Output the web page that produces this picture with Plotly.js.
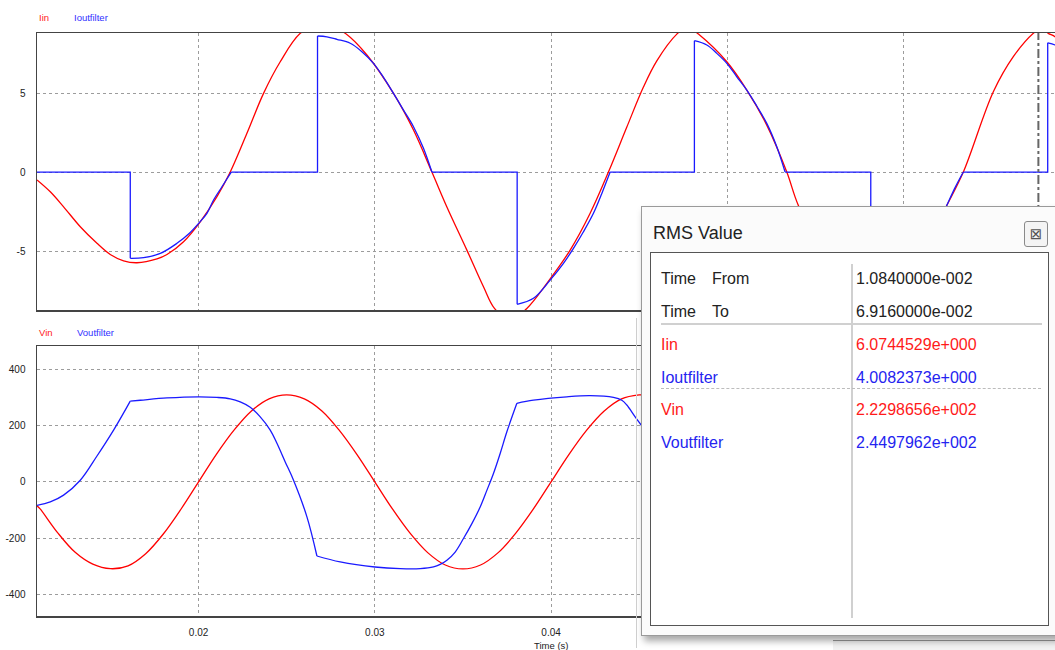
<!DOCTYPE html>
<html><head><meta charset="utf-8">
<script src="https://cdn.plot.ly/plotly-3.0.1.min.js"></script>
<style>
html,body{margin:0;padding:0;overflow:hidden;background:#fff;width:1055px;height:650px;}
#chart{position:absolute;left:0;top:0;width:1075px;height:650px;}
.abs{position:absolute;}
.t{position:absolute;font-family:'Liberation Sans',Arial,sans-serif;font-size:16px;line-height:18px;white-space:nowrap;color:#222;}
</style></head><body>
<div id="chart"></div>
<div class="abs" style="left:636px;top:318px;width:1px;height:330px;background:#cfcfcf;"></div>
<div class="abs" style="left:833px;top:640px;width:240px;height:14px;border-top:1px solid #9a9a9a;background:#f2f2f2;"></div>
<div class="abs" style="left:641px;top:206px;width:430px;height:428px;border:1px solid #9a9a9a;border-right:none;background:#fbfbfb;box-shadow:3px 5px 7px rgba(0,0,0,0.35);"></div>
<div class="t" style="left:653px;top:223px;font-size:18px;line-height:20px;">RMS Value</div>
<div class="abs" style="left:1024px;top:221px;width:22px;height:24px;border:1px solid #8a8a8a;border-radius:3px;background:#f4f4f4;font-family:'DejaVu Sans',sans-serif;font-size:15px;line-height:24px;text-align:center;color:#555;">&#x22A0;</div>
<div class="abs" style="left:650px;top:252px;width:397px;height:372px;border:1.5px solid #555;background:#fff;"></div>
<div class="abs" style="left:851px;top:264px;width:2px;height:354px;background:#d0d0d0;"></div>
<div class="abs" style="left:661px;top:323px;width:381px;height:2px;background:#d0d0d0;"></div>
<div class="abs" style="left:661px;top:388px;width:380px;height:0;border-top:1px dashed #bcbcbc;"></div>
<div id="rows"></div>
<script>
// ---------------- data ----------------
const timeRange = [0.010834, 0.06916];
const xTickVals = [0.02, 0.03, 0.04, 0.05, 0.06];
const xTickText = ['0.02', '0.03', '0.04', '', ''];
const iTickVals = [-5, 0, 5];
const iTickText = ['-5', '0', '5'];
const vTickVals = [-400, -200, 0, 200, 400];
const vTickText = ['-400', '-200', '0', '200', '400'];
const cursorTime = 0.06765;

const tIin = [0.010834,0.011588,0.012343,0.013290,0.014237,0.014991,0.015746,0.016506,0.017640,0.018208,0.019149,0.020096,0.021044,0.021798,0.022745,0.023687,0.024634,0.025769,0.027017,0.028322,0.029552,0.031061,0.032195,0.033239,0.034090,0.035224,0.036166,0.036790,0.037680,0.038627,0.039762,0.041083,0.042218,0.043256,0.044300,0.045241,0.046001,0.047136,0.047748,0.048361,0.049972,0.051106,0.052240,0.053375,0.054033,0.05583,0.05821,0.06065,0.062450,0.063392,0.065094,0.066228,0.067362,0.06780,0.068213,0.068593,0.06916];
const Iin = [-0.5,-1.25,-2.2,-3.46,-4.51,-5.22,-5.62,-5.74,-5.50,-5.22,-4.41,-3.15,-1.56,0,2.45,4.98,6.98,8.78,9.5,8.78,7.41,4.98,2.66,0,-2.21,-4.94,-7.26,-8.63,-9.4,-8.63,-7.04,-4.94,-2.61,0,2.85,5.38,7.04,8.73,9.2,8.73,6.98,5.19,2.97,0,-2.12,-6.0,-9.2,-6.0,-2.12,0,5.08,7.30,8.78,9.1,8.78,8.56,7.9];

const tIout = [0.010834,0.016126,0.016126,0.016880,0.017828,0.018775,0.019433,0.020000,0.020476,0.020851,0.021327,0.021855,
  0.026750,0.026750,0.027283,0.027850,0.028605,0.029268,0.029926,0.030493,0.031061,0.031628,0.032195,0.032762,0.033239,
  0.038077,0.038077,0.039002,0.039949,0.040703,0.041271,0.041838,0.042405,0.042881,0.043352,
  0.048133,0.048133,0.048837,0.049404,0.049972,0.050539,0.051106,0.051673,0.052240,0.052808,0.053278,
  0.058140,0.058140,0.059065,0.060012,0.061334,0.062450,0.062915,0.063392,
  0.068179,0.068179,0.068595,0.06916];
const Ioutfilter = [0,0,-5.46,-5.42,-5.15,-4.51,-3.92,-3.25,-2.61,-1.77,-0.93,0,
  0,8.61,8.56,8.40,8.15,7.62,6.88,5.99,4.98,3.92,2.87,1.50,0,
  0,-8.37,-7.99,-6.84,-5.78,-4.83,-3.78,-2.61,-1.35,0,
  0,8.31,8.04,7.51,6.88,6.03,5.19,4.18,3.08,1.60,0,
  0,-8.35,-7.95,-6.8,-4.8,-2.12,-1.0,0,
  0,8.18,8.04,7.6];

const tVin = [0.010834,0.011,0.012,0.013,0.014,0.015,0.016,0.017,0.018,0.019,0.020,0.021,0.022,0.023,0.024,0.025,0.026,0.027,0.028,0.029,0.030,0.031,0.032,0.033,0.034,0.035,0.036,0.037,0.038,0.039,0.040,0.041,0.042,0.043,0.044,0.045,0.0452];
const Vin = [-85,-95,-180,-250,-292,-308,-298,-255,-185,-97,0,97,183,252,295,309,295,252,182,96,0,-96,-182,-251,-295,-309,-295,-251,-182,-96,0,96,182,251,295,309,309];

const tVout = [0.010834,0.011588,0.012343,0.013290,0.014237,0.015179,0.016126,0.016693,0.018208,0.020000,0.021044,0.021798,0.022365,0.022932,0.023500,0.024067,0.024447,0.024918,0.025389,0.026149,0.026716,0.028038,0.030006,0.031441,0.032575,0.033330,0.033709,0.034090,0.034560,0.035031,0.035508,0.035979,0.036358,0.036733,0.037113,0.037493,0.038060,0.039002,0.040896,0.042218,0.043540,0.044016,0.044300,0.044771,0.0452];
const Voutfilter = [-83,-71,-47,6,92,184,287,290,298,302,300,295,284,265,231,184,137,71,6,-124,-263,-284,-302,-308,-308,-302,-293,-278,-249,-201,-148,-89,-30,30,101,178,279,290,302,306,300,290,273,231,195];
const voutKinks = [0.016126, 0.026716, 0.038060];

const legendTop = ['Iin', 'Ioutfilter'];
const legendBottom = ['Vin', 'Voutfilter'];
const rmsRows = [
  ['Time', 'From', '1.0840000e-002', '#222'],
  ['Time', 'To', '6.9160000e-002', '#222'],
  ['Iin', '', '6.0744529e+000', '#ff1a1a'],
  ['Ioutfilter', '', '4.0082373e+000', '#2424f0'],
  ['Vin', '', '2.2298656e+002', '#ff1a1a'],
  ['Voutfilter', '', '2.4497962e+002', '#2424f0']
];

// ---------------- helpers: split series into smooth / straight pieces ----------------
function joinPieces(t, v, ranges){
  const X = [], Y = [];
  ranges.forEach(function(r, k){
    if (k) { X.push(null); Y.push(null); }
    for (let i = r[0]; i <= r[1]; i++) { X.push(t[i]); Y.push(v[i]); }
  });
  return {x: X, y: Y};
}
// Ioutfilter: straight pieces (zero runs + vertical jumps), smooth pieces (decaying arcs)
const jumpIdx = [];
for (let i = 1; i < tIout.length; i++) if (tIout[i] === tIout[i-1]) jumpIdx.push(i);
const linRanges = [], curRanges = [];
let st = 0;
jumpIdx.forEach(function(j){
  linRanges.push([st, j]);
  let k = j + 1;
  while (k < tIout.length - 1 && Ioutfilter[k] !== 0) k++;
  curRanges.push([j, k]);
  st = k;
});
const ioutLin = joinPieces(tIout, Ioutfilter, linRanges);
const ioutCur = joinPieces(tIout, Ioutfilter, curRanges);
// Voutfilter: smooth pieces between kinks
const kIdx = voutKinks.map(function(k){ return tVout.indexOf(k); });
const vRanges = [];
let s2 = 0;
kIdx.forEach(function(k){ vRanges.push([s2, k]); s2 = k; });
vRanges.push([s2, tVout.length - 1]);
const voutCur = joinPieces(tVout, Voutfilter, vRanges);

// ---------------- chart ----------------
const W = 1075, H = 650, L = 37, R = 1065;
const RED = '#ff0000', BLUE = '#1a1aff';
function px(x){ return (x - L) / (R - L); }
function py(y){ return (H - y) / H; }

const traces = [
  {x: tIin, y: Iin, xaxis:'x', yaxis:'y', mode:'lines', line:{color:RED, width:1.3, shape:'spline', smoothing:1}, hoverinfo:'skip'},
  {x: ioutLin.x, y: ioutLin.y, xaxis:'x', yaxis:'y', mode:'lines', line:{color:BLUE, width:1.3}, connectgaps:false, hoverinfo:'skip'},
  {x: ioutCur.x, y: ioutCur.y, xaxis:'x', yaxis:'y', mode:'lines', line:{color:BLUE, width:1.3, shape:'spline', smoothing:1}, connectgaps:false, hoverinfo:'skip'},
  {x: tVin, y: Vin, xaxis:'x2', yaxis:'y2', mode:'lines', line:{color:RED, width:1.3, shape:'spline', smoothing:1}, hoverinfo:'skip'},
  {x: voutCur.x, y: voutCur.y, xaxis:'x2', yaxis:'y2', mode:'lines', line:{color:BLUE, width:1.3, shape:'spline', smoothing:1}, connectgaps:false, hoverinfo:'skip'}
];

const gridStyle = {showgrid:true, gridcolor:'#9c9c9c', gridwidth:1, griddash:'3px,3px', zeroline:false,
  showline:true, mirror:true, linecolor:'#444', linewidth:1.5, ticks:'', automargin:false};

const layout = {
  width: W, height: H,
  margin: {l: L, r: W - R, t: 0, b: 0},
  paper_bgcolor:'#fff', plot_bgcolor:'#fff', showlegend:false,
  font: {family:'Liberation Sans, Arial, sans-serif', size:10, color:'#222'},
  xaxis: Object.assign({}, gridStyle, {domain:[0,1], anchor:'y', range:timeRange, tickvals:xTickVals, ticktext:xTickText, showticklabels:false}),
  yaxis: Object.assign({}, gridStyle, {domain:[py(310), py(33)], anchor:'x', range:[-8.73, 8.8], tickvals:iTickVals, ticktext:iTickText, ticklabelstandoff:8}),
  xaxis2: Object.assign({}, gridStyle, {domain:[0,1], anchor:'y2', range:timeRange, tickvals:xTickVals, ticktext:xTickText, ticklabelstandoff:6}),
  yaxis2: Object.assign({}, gridStyle, {domain:[py(616), py(346)], anchor:'x2', range:[-476, 482.5], tickvals:vTickVals, ticktext:vTickText, ticklabelstandoff:8}),
  shapes: [
    {type:'line', xref:'x', yref:'y', x0:cursorTime, x1:cursorTime, y0:-8.73, y1:8.8, line:{color:'#666', width:2, dash:'dashdot'}}
  ],
  annotations: [
    {text:legendTop[0], xref:'paper', yref:'paper', x:px(37), y:py(18), xanchor:'left', yanchor:'middle', showarrow:false, font:{color:'#ff2020', size:9.5}},
    {text:legendTop[1], xref:'paper', yref:'paper', x:px(72), y:py(18), xanchor:'left', yanchor:'middle', showarrow:false, font:{color:'#3030ff', size:9.5}},
    {text:legendBottom[0], xref:'paper', yref:'paper', x:px(37), y:py(332), xanchor:'left', yanchor:'middle', showarrow:false, font:{color:'#ff2020', size:9.5}},
    {text:legendBottom[1], xref:'paper', yref:'paper', x:px(75), y:py(332), xanchor:'left', yanchor:'middle', showarrow:false, font:{color:'#3030ff', size:9.5}},
    {text:'Time (s)', xref:'paper', yref:'paper', x:px(551), y:py(645), xanchor:'center', yanchor:'middle', showarrow:false, font:{color:'#222', size:9.5}}
  ]
};

Plotly.newPlot('chart', traces, layout, {displayModeBar:false, staticPlot:true});

// ---------------- RMS dialog rows ----------------
const rowY = [279, 312, 345, 378, 410, 443];
const rows = document.getElementById('rows');
rmsRows.forEach(function(r, i){
  const top = rowY[i] - 9;
  let html = '<div class="t" style="left:661px;top:' + top + 'px;color:' + r[3] + '">' + r[0] + '</div>';
  if (r[1]) html += '<div class="t" style="left:712px;top:' + top + 'px;color:' + r[3] + '">' + r[1] + '</div>';
  html += '<div class="t" style="left:856px;top:' + top + 'px;color:' + r[3] + '">' + r[2] + '</div>';
  rows.insertAdjacentHTML('beforeend', html);
});
</script>
</body></html>
